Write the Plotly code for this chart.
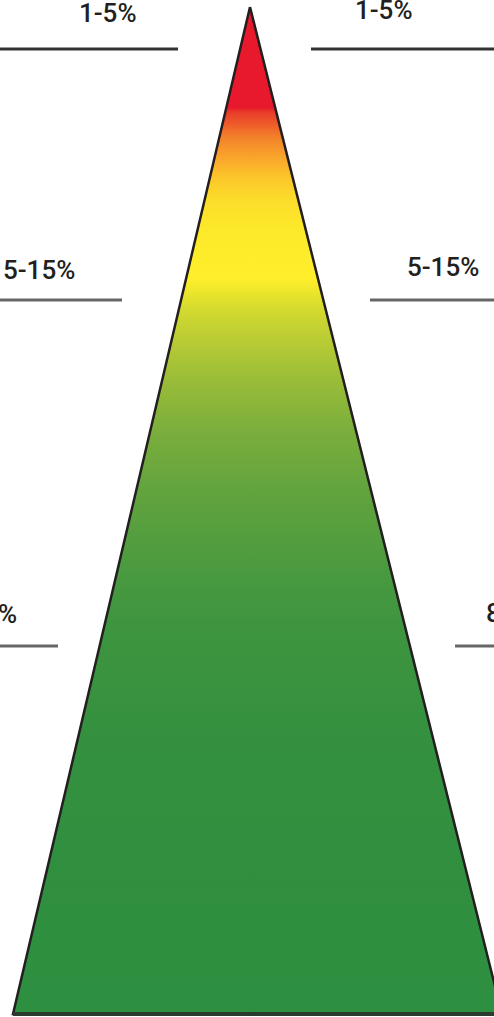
import plotly.graph_objects as go

# ---- data ----
tier_labels = ["1-5%", "5-15%", "80-94%"]
# gradient colours from apex (0) to base (1)
grad_pos = [0.0, 0.10, 0.104, 0.116, 0.131, 0.151, 0.171, 0.191, 0.221, 0.27, 0.28, 0.30, 0.33, 0.37, 0.42, 0.49, 0.56, 0.61, 0.74, 1.0]
grad_col = ["#E8192C", "#E8192C", "#E83A2A", "#EE5A2A", "#F4852A", "#F9A82A", "#FCC82A", "#FCDC2A",
            "#FCEA2A", "#FFEE2A", "#F0E82B", "#D4DA2F", "#BACC34", "#9ABD38", "#7BAE3C", "#5FA23E",
            "#4A9A3F", "#3F953F", "#33903F", "#2D8F40"]

# ---- layout constants (pixel-like coordinates) ----
W, H = 494, 1017
apex = (250, 7)
base_l = (13, 1014)
base_r = (502, 1014)
line_y = [49, 300, 646]
left_line_end = [178, 122, 58]
right_line_start = [311, 370, 455]
left_label_x = [139, 77, 19]
right_label_x = [353, 405, 484]
left_label_y = [13, 270, 614]
right_label_y = [10, 267, 613]
line_colors = ["#333333", "#666666", "#666666"]

fig = go.Figure()
fig.add_trace(go.Scatter(
    x=[apex[0], base_r[0], base_l[0], apex[0]],
    y=[apex[1], base_r[1], base_l[1], apex[1]],
    mode="lines", fill="toself",
    line=dict(color="#231F20", width=2.5),
    fillgradient=dict(type="vertical", start=apex[1], stop=base_l[1],
                      colorscale=[[p, c] for p, c in zip(grad_pos, grad_col)]),
    hoverinfo="skip", showlegend=False,
))
# thicker base edge
fig.add_shape(type="line", x0=base_l[0], x1=base_r[0], y0=base_l[1], y1=base_l[1],
              line=dict(color="#2B3A2E", width=4), layer="above")

font = dict(family="Roboto, Liberation Sans, sans-serif", size=26, color="#231F20", weight=500)
for i, lab in enumerate(tier_labels):
    fig.add_shape(type="line", x0=-5, x1=left_line_end[i], y0=line_y[i], y1=line_y[i],
                  line=dict(color=line_colors[i], width=3))
    fig.add_shape(type="line", x0=right_line_start[i], x1=W + 5, y0=line_y[i], y1=line_y[i],
                  line=dict(color=line_colors[i], width=3))
    fig.add_annotation(x=left_label_x[i], y=left_label_y[i], text=lab, showarrow=False,
                       xanchor="right", yanchor="middle", font=font)
    fig.add_annotation(x=right_label_x[i], y=right_label_y[i], text=lab, showarrow=False,
                       xanchor="left", yanchor="middle", font=font)

fig.update_layout(
    width=W, height=H, margin=dict(l=0, r=0, t=0, b=0),
    paper_bgcolor="white", plot_bgcolor="white",
    xaxis=dict(range=[0, W], visible=False, fixedrange=True),
    yaxis=dict(range=[H, 0], visible=False, fixedrange=True),
)
fig.write_html("out.html", config={"displayModeBar": False},
               post_script="document.body.style.margin='0';document.body.style.overflow='hidden';")
